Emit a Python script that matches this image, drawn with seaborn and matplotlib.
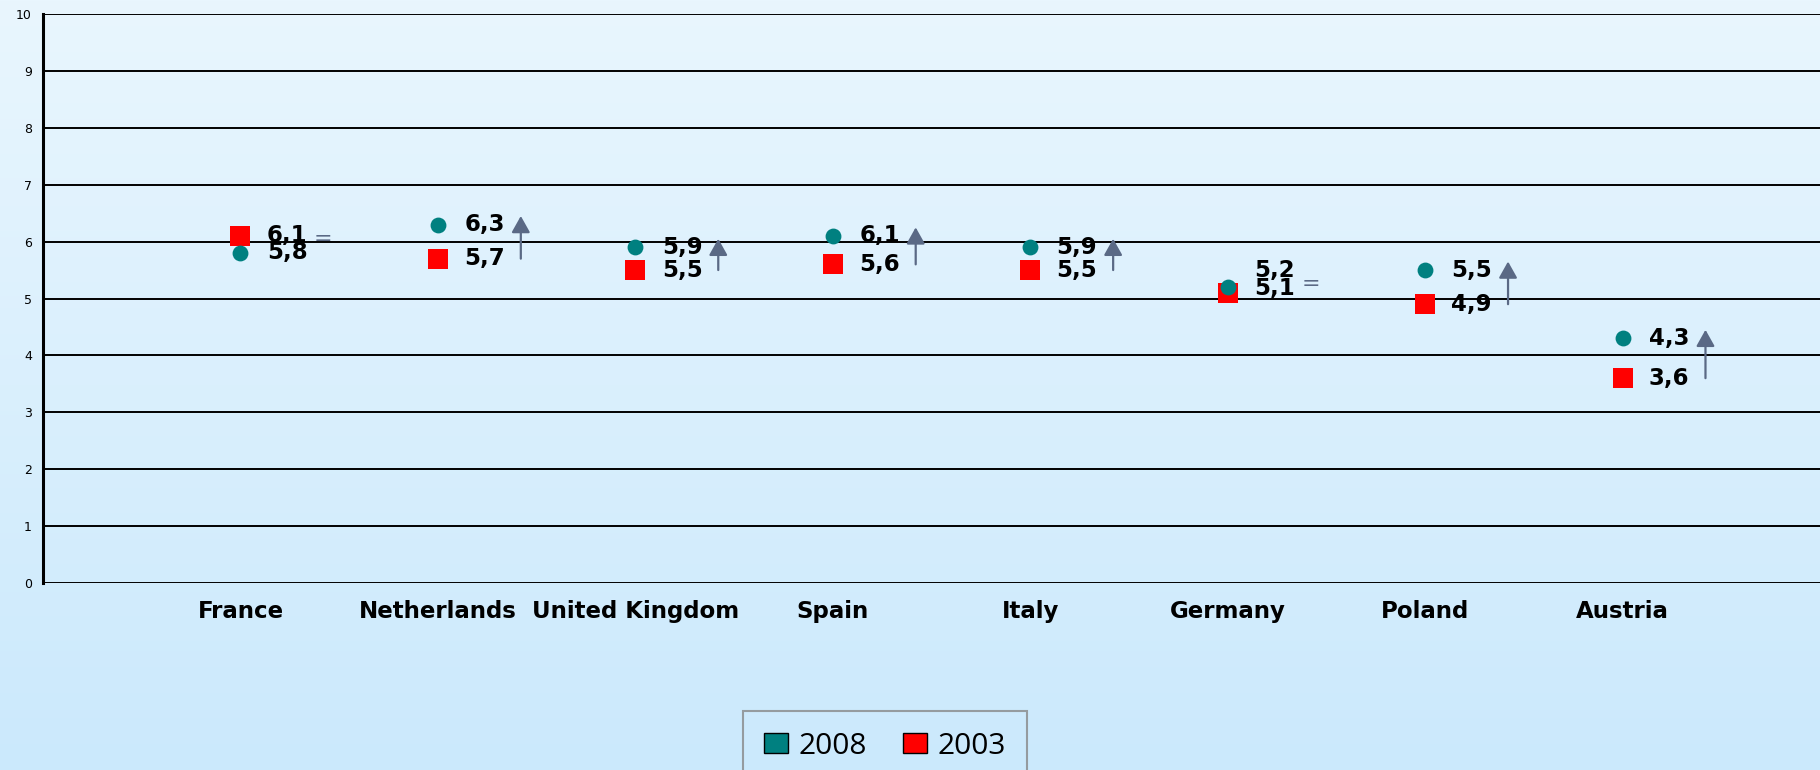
import numpy as np
import pandas as pd
import seaborn as sns
import matplotlib.pyplot as plt
from matplotlib.patches import Patch

countries = ["France", "Netherlands", "United Kingdom", "Spain", "Italy", "Germany", "Poland", "Austria"]
values_2008 = [5.8, 6.3, 5.9, 6.1, 5.9, 5.2, 5.5, 4.3]
values_2003 = [6.1, 5.7, 5.5, 5.6, 5.5, 5.1, 4.9, 3.6]
trend = ["=", "up", "up", "up", "up", "=", "up", "up"]
y_ticks = list(range(0, 11))

teal = "#008080"
red = "#ff0000"
slate = "#5a6985"

df = pd.DataFrame({
    "country": countries * 2,
    "value": values_2008 + values_2003,
    "year": ["2008"] * len(countries) + ["2003"] * len(countries),
})

sns.set_style("white")
plt.rcParams["font.family"] = ["DejaVu Sans"]
plt.rcParams["text.color"] = "black"
plt.rcParams["xtick.color"] = "black"
plt.rcParams["ytick.color"] = "black"

W, H = 1820, 770
fig = plt.figure(figsize=(W / 100, H / 100), dpi=100)

# light blue vertical gradient behind everything
top = np.array([233, 246, 254]) / 255
bottom = np.array([203, 233, 252]) / 255
t = np.linspace(0, 1, H)[:, None, None]
grad = np.broadcast_to(top + (bottom - top) * t, (H, W, 3))
fig.figimage(grad, 0, 0, origin="upper", zorder=-10)

ax = fig.add_axes([43 / W, 1 - 583 / H, 1 - 43 / W, (583 - 14) / H])
ax.patch.set_alpha(0)

# 2003 first so the 2008 circles sit on top
sns.scatterplot(data=df[df["year"] == "2003"], x="country", y="value", marker="s",
                s=190, color=red, linewidth=0, ax=ax, zorder=3)
sns.scatterplot(data=df[df["year"] == "2008"], x="country", y="value", marker="o",
                s=130, color=teal, linewidth=0, ax=ax, zorder=4)

ax.set_xlim(-1, len(countries))
ax.set_ylim(0, 10)
ax.set_yticks(y_ticks)
ax.set_xlabel("")
ax.set_ylabel("")
ax.grid(axis="y", color="black", lw=1.4)
ax.grid(axis="x", visible=False)
for side in ["top", "right", "bottom"]:
    ax.spines[side].set_visible(False)
ax.spines["left"].set_color("black")
ax.spines["left"].set_linewidth(2.2)
ax.tick_params(axis="y", length=5, width=1.2, color="black", pad=3, labelsize=9)
ax.tick_params(axis="x", length=0, pad=12, labelsize=16.5)
for lab in ax.get_xticklabels():
    lab.set_fontweight("bold")

# value labels (Germany's overlap nudged apart like in the original)
nudge_2008 = {"Germany": 12}
nudge_2003 = {"Germany": 3}
fmt = lambda v: f"{v:.1f}".replace(".", ",")
for i, c in enumerate(countries):
    v8, v3 = values_2008[i], values_2003[i]
    ax.annotate(fmt(v8), (i, v8), xytext=(19, nudge_2008.get(c, 0)), textcoords="offset points",
                ha="left", va="center", fontsize=16.5, fontweight="bold", zorder=5)
    ax.annotate(fmt(v3), (i, v3), xytext=(19, nudge_2003.get(c, 0)), textcoords="offset points",
                ha="left", va="center", fontsize=16.5, fontweight="bold", zorder=5)
    if trend[i] == "up":
        ax.annotate("", xy=(i + 0.42, v8 + 0.15), xytext=(i + 0.42, v3),
                    arrowprops=dict(arrowstyle="-|>,head_length=0.5,head_width=0.28",
                                    color=slate, lw=1.6, mutation_scale=20,
                                    shrinkA=0, shrinkB=0), zorder=5)
    else:
        ax.text(i + 0.42, (v8 + v3) / 2 + 0.1, "=", color=slate, ha="center",
                va="center", fontsize=16, zorder=5)

handles = [Patch(facecolor=teal, edgecolor="black", label="2008"),
           Patch(facecolor=red, edgecolor="black", label="2003")]
leg = fig.legend(handles=handles, loc="upper center", bbox_to_anchor=(885 / W, 1 - 711 / H),
                 ncol=2, prop={"family": "Open Sans", "size": 21.5}, frameon=True, fancybox=False,
                 edgecolor="#888888", handlelength=0.8, handleheight=0.65, handletextpad=0.36,
                 columnspacing=1.2, borderpad=0.7, borderaxespad=0)
leg.get_frame().set_facecolor("none")
leg.get_frame().set_linewidth(1.5)

fig.savefig("out.png", dpi=100)
